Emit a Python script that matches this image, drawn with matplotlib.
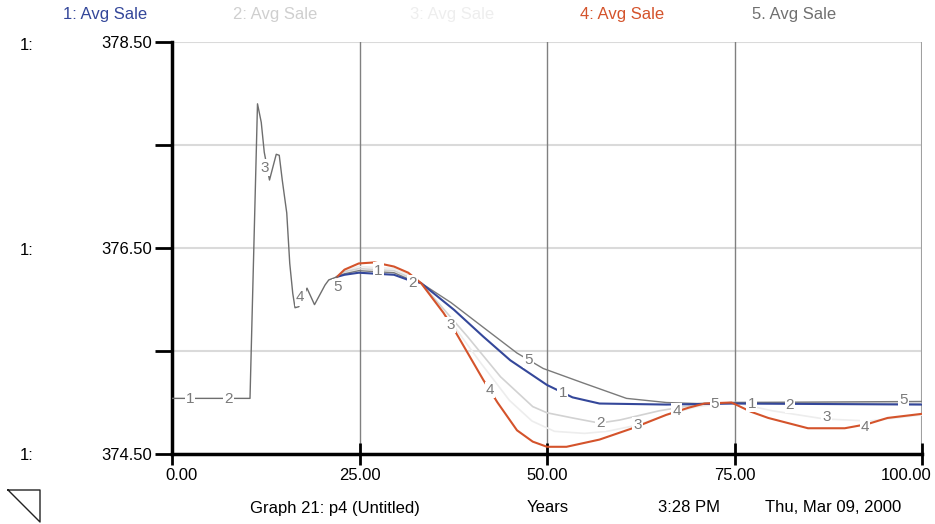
import matplotlib.pyplot as plt
from matplotlib.lines import Line2D
from matplotlib.transforms import ScaledTranslation

plt.rcParams['font.family'] = ['Liberation Sans', 'DejaVu Sans']

# common start of all five runs (years, avg sale)
t_start = [0, 10.4, 11.4, 11.9, 12.3, 13.0, 13.9, 14.3, 14.7, 15.3, 15.7, 16.1, 16.4,
           16.9, 18.0, 19.0, 20.4, 20.9, 22.0]
v_start = [375.04, 375.04, 377.90, 377.72, 377.43, 377.16, 377.41, 377.40, 377.16, 376.84,
           376.35, 376.06, 375.92, 375.93, 376.11, 375.95, 376.14, 376.19, 376.22]

# runs after they split
t1 = [22.0, 23.0, 24.9, 29.6, 31.5, 33.2, 37.6, 41.5, 45.1, 50.0, 53.4, 57.0, 65.9, 75.0, 100]
v1 = [376.22, 376.24, 376.26, 376.24, 376.19, 376.16, 375.90, 375.64, 375.41, 375.17, 375.05,
      374.99, 374.98, 374.99, 374.98]

t2 = [22.0, 23.0, 24.9, 29.6, 31.5, 33.2, 39.4, 43.8, 48.1, 50.0, 53.4, 57.0, 59.7, 65.0, 70.0,
      75.0, 100]
v2 = [376.22, 376.27, 376.30, 376.28, 376.22, 376.16, 375.64, 375.25, 374.96, 374.90, 374.85,
      374.80, 374.83, 374.92, 374.98, 375.00, 374.99]

t3 = [22.0, 23.0, 24.9, 29.6, 31.5, 33.2, 37.2, 41.0, 45.0, 48.0, 51.0, 55.0, 58.0, 62.0, 66.0,
      70.0, 75.0, 80.0, 87.0, 93.0, 100]
v3 = [376.22, 376.28, 376.32, 376.30, 376.24, 376.16, 375.78, 375.40, 375.02, 374.82, 374.72,
      374.70, 374.72, 374.78, 374.88, 374.96, 375.00, 374.92, 374.84, 374.82, 374.88]

t4 = [22.0, 23.0, 24.9, 27.0, 29.6, 31.5, 33.2, 36.2, 37.6, 41.5, 43.4, 46.0, 48.1, 50.0, 52.6,
      57.0, 61.4, 65.9, 68.9, 71.0, 74.6, 77.2, 79.5, 84.8, 89.7, 92.7, 95.4, 100]
v4 = [376.22, 376.29, 376.35, 376.36, 376.32, 376.26, 376.16, 375.87, 375.71, 375.22, 375.00,
      374.73, 374.62, 374.57, 374.57, 374.64, 374.75, 374.88, 374.95, 374.99, 375.00,
      374.91, 374.85, 374.75, 374.75, 374.79, 374.85, 374.89]

t5 = [22.0, 23.0, 24.9, 29.6, 31.5, 33.2, 37.2, 41.5, 46.0, 49.5, 54.8, 60.6, 65.9, 70.0, 75.0, 100]
v5 = [376.22, 376.25, 376.28, 376.26, 376.20, 376.16, 375.97, 375.73, 375.48, 375.33, 375.19,
      375.04, 375.00, 374.99, 375.00, 375.01]

# number tags drawn on the curves
tags1 = [(2.4, 375.03), (27.5, 376.28), (52.1, 375.09), (77.3, 374.99)]
tags2 = [(7.5, 375.03), (32.1, 376.16), (57.1, 374.80), (82.4, 374.98)]
tags3 = [(12.4, 377.28), (37.1, 375.75), (62.1, 374.78), (87.3, 374.86)]
tags4 = [(17.1, 376.02), (42.4, 375.12), (67.3, 374.92), (92.4, 374.76)]
tags5 = [(22.1, 376.12), (47.5, 375.41), (72.4, 374.99), (97.5, 375.02)]

colors = ['#34479a', '#d2d2d2', '#ededed', '#d4532b', '#7a7a7a']
widths = [1.5, 1.2, 1.2, 1.5, 1.0]

fig = plt.figure(figsize=(9.35, 5.24), dpi=100)
ax = fig.add_axes([172 / 935, 1 - 454 / 524, 750 / 935, 412 / 524])

# shared start drawn once, thin gray
ax.plot(t_start, v_start, color='#6e6e6e', lw=1.0, zorder=4)

runs = [(t1, v1), (t2, v2), (t3, v3), (t4, v4), (t5, v5)]
for i in [2, 1, 4, 0, 3]:
    t, v = runs[i]
    ax.plot(t, v, color=colors[i], lw=widths[i], zorder=3)

for n, tags in enumerate([tags1, tags2, tags3, tags4, tags5]):
    for x, y in tags:
        ax.text(x, y, str(n + 1), ha='center', va='center', fontsize=11, color='#7a7a7a',
                zorder=6, bbox=dict(boxstyle='square,pad=0.08', fc='white', ec='none'))

ax.set_xlim(0, 100)
ax.set_ylim(374.5, 378.5)
ax.set_xticks([0, 25, 50, 75, 100])
ax.set_xticklabels(['0.00', '25.00', '50.00', '75.00', '100.00'])
ax.set_yticks([374.5, 375.5, 376.5, 377.5, 378.5])
ax.set_yticklabels(['374.50', '', '376.50', '', '378.50'])
ax.tick_params(axis='x', direction='inout', length=16, width=2, labelsize=12, pad=2)
ax.tick_params(axis='y', direction='out', length=12, width=2, labelsize=12, pad=2)

# first and last x labels sit a bit inward
labs = ax.get_xticklabels()
labs[0].set_transform(labs[0].get_transform() + ScaledTranslation(0.10, 0, fig.dpi_scale_trans))
labs[-1].set_transform(labs[-1].get_transform() + ScaledTranslation(-0.16, 0, fig.dpi_scale_trans))

for y in [375.5, 376.5, 377.5, 378.5]:
    ax.axhline(y, color='#dadada', lw=1.5, zorder=1)
for x in [25, 50, 75]:
    ax.axvline(x, color='#808080', lw=1.0, zorder=1)
ax.axvline(100, color='#a0a0a0', lw=1.5, zorder=1)

ax.spines['top'].set_visible(False)
ax.spines['right'].set_visible(False)
ax.spines['left'].set_linewidth(2.5)
ax.spines['bottom'].set_linewidth(2.5)

# header
heads = ['1: Avg Sale', '2: Avg Sale', '3: Avg Sale', '4: Avg Sale', '5. Avg Sale']
head_x = [63, 233, 410, 580, 752]
for s, x, c in zip(heads, head_x, ['#34479a', '#cfcfcf', '#eeeeee', '#d4532b', '#707070']):
    fig.text(x / 935, 1 - 15 / 524, s, fontsize=12, color=c, va='center')

for y in [45, 250, 455]:
    fig.text(20 / 935, 1 - y / 524, '1:', fontsize=12, va='center')

# footer
for s, x in [('Graph 21: p4 (Untitled)', 250), ('Years', 527), ('3:28 PM', 658),
             ('Thu, Mar 09, 2000', 765)]:
    fig.text(x / 935, 1 - 508 / 524, s, fontsize=12, va='center')

fx = [8 / 935, 40 / 935, 40 / 935, 8 / 935]
fy = [1 - 490 / 524, 1 - 490 / 524, 1 - 522 / 524, 1 - 490 / 524]
fig.add_artist(Line2D(fx, fy, color='#222222', lw=1.0))

fig.savefig('out.png', dpi=100)
